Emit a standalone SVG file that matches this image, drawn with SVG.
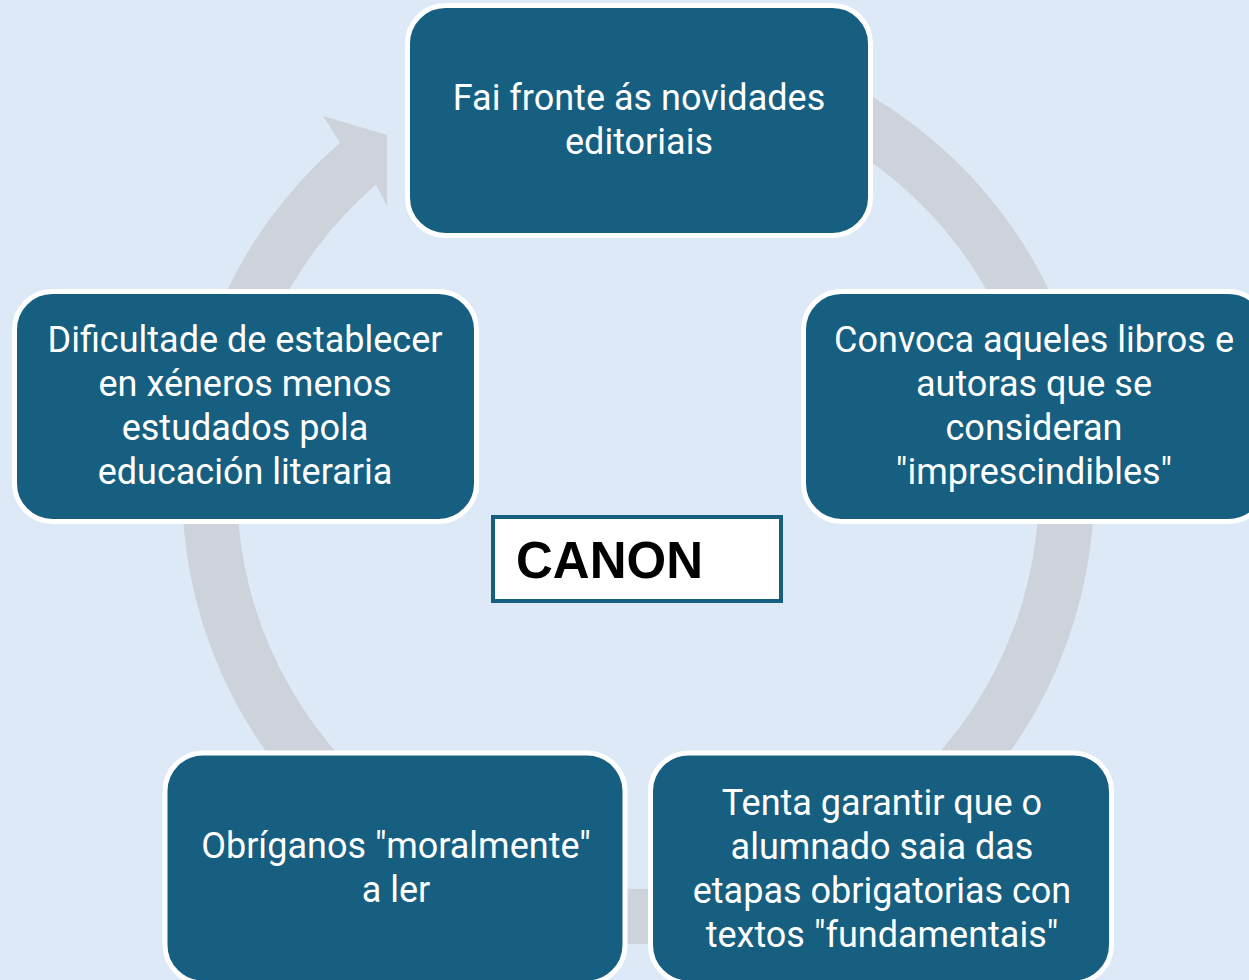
<svg xmlns="http://www.w3.org/2000/svg" width="1249" height="980" viewBox="0 0 1249 980">
<style>
.node{fill:#175F80;stroke:#FFFFFF;stroke-width:5}
.t{font-family:Roboto,"Liberation Sans",sans-serif;font-size:36px;fill:#FFFFFF;text-anchor:middle}
.ring{fill:#CDD2DB}
</style>
<rect x="0" y="0" width="1249" height="980" fill="#DDE9F6"/>
<g id="connectors">
<path class="ring" d="M 756 47.5 A 456 456 0 1 1 340.1 142.8 L 323 116 L 387 135 L 387 206 L 376 184.4 A 401 401 0 1 0 741.8 100.7 Z"/>
</g>
<g id="node-top">
<rect class="node" x="407.5" y="5.5" width="463" height="230" rx="38"/>
<text class="t" x="639" y="110">Fai fronte ás novidades</text>
<text class="t" x="639" y="154">editoriais</text>
</g>
<g id="node-right">
<rect class="node" x="803.5" y="291.5" width="463" height="230" rx="38"/>
<text class="t" x="1034" y="352">Convoca aqueles libros e</text>
<text class="t" x="1034" y="396">autoras que se</text>
<text class="t" x="1034" y="440">consideran</text>
<text class="t" x="1034" y="484">"imprescindibles"</text>
</g>
<g id="node-bottom-right">
<rect class="node" x="650.5" y="753" width="461" height="230" rx="38"/>
<text class="t" x="882" y="815">Tenta garantir que o</text>
<text class="t" x="882" y="859">alumnado saia das</text>
<text class="t" x="882" y="903">etapas obrigatorias con</text>
<text class="t" x="882" y="947">textos "fundamentais"</text>
</g>
<g id="node-bottom-left">
<rect class="node" x="165" y="753" width="460" height="230" rx="38"/>
<text class="t" x="396" y="858">Obríganos "moralmente"</text>
<text class="t" x="396" y="902">a ler</text>
</g>
<g id="node-left">
<rect class="node" x="14.5" y="291.5" width="462" height="230" rx="38"/>
<text class="t" x="245" y="352">Dificultade de establecer</text>
<text class="t" x="245" y="396">en xéneros menos</text>
<text class="t" x="245" y="440">estudados pola</text>
<text class="t" x="245" y="484">educación literaria</text>
</g>
<g id="node-canon">
<rect x="493" y="517" width="288" height="84" fill="#FFFFFF" stroke="#175F80" stroke-width="4"/>
<text x="516" y="578" font-family="'Liberation Sans',Arial,sans-serif" font-weight="bold" font-size="51" fill="#000000">CANON</text>
</g>
</svg>
